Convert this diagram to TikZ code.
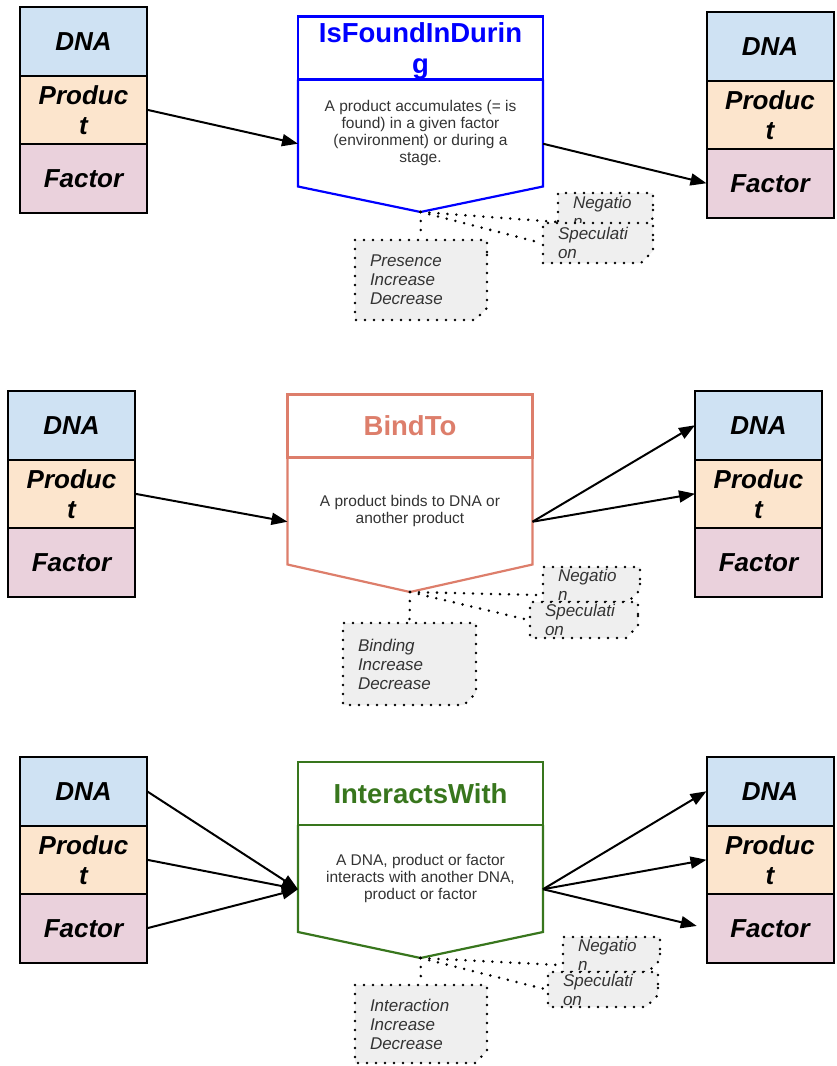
\documentclass[tikz,border=0pt]{standalone}
\usepackage{fontspec}
\setmainfont{Liberation Sans}
\usetikzlibrary{positioning, arrows.meta, shapes.misc}
\definecolor{relblue}{RGB}{0,0,255}
\definecolor{relsalmon}{RGB}{221,126,107}
\definecolor{relgreen}{RGB}{56,118,29}
\definecolor{dnafill}{RGB}{207,226,243}
\definecolor{prodfill}{RGB}{252,229,205}
\definecolor{factfill}{RGB}{234,209,220}
\definecolor{notefill}{RGB}{239,239,239}
\definecolor{inkgray}{RGB}{51,51,51}

\begin{document}
\begin{tikzpicture}[x=1pt, y=-1pt,
    cell/.style={rectangle, draw=black, line width=2pt, outer sep=0pt,
                 minimum width=127pt, minimum height=68.5pt, inner sep=0pt,
                 align=center, font=\fontsize{26}{30}\selectfont\bfseries\itshape},
    dnacell/.style={cell, fill=dnafill},
    prodcell/.style={cell, fill=prodfill},
    factcell/.style={cell, fill=factfill},
    reltitle/.style={rectangle, draw=#1, text=#1, fill=white, line width=2.2pt,
                     outer sep=0pt, minimum width=245pt, minimum height=63pt,
                     inner sep=1pt, align=center,
                     font=\fontsize{27.5}{30.5}\selectfont\bfseries},
    relbody/.style={rectangle, minimum width=245pt, minimum height=107pt,
                    inner sep=0pt, outer sep=0pt, align=center, text=inkgray,
                    font=\fontsize{15.5}{17.3}\selectfont},
    reledge/.style={draw=#1, line width=2.2pt, line join=miter},
    note/.style={chamfered rectangle, chamfered rectangle corners=south east,
                 chamfered rectangle xsep=6pt, chamfered rectangle ysep=6pt,
                 fill=notefill, draw=black, line width=2.8pt, line cap=round,
                 dash pattern=on 0pt off 9pt, inner xsep=9pt, inner ysep=-6pt,
                 align=left, text=inkgray,
                 font=\fontsize{17}{19}\selectfont\itshape},
    noteline/.style={line width=2.8pt, line cap=round, dash pattern=on 0pt off 9pt},
    linkarr/.style={-{Triangle[length=16pt, width=12pt]}, line width=2pt},
]
\useasboundingbox (0,0) rectangle (836,1066);

% ─── IsFoundInDuring ─────────────────────────────────────────────
\node[dnacell] (D1) at (83.5,41.25) {DNA};
\node[prodcell, below=0pt of D1] (P1) {Produc\\t};
\node[factcell, below=0pt of P1] (F1) {Factor};

\node[dnacell] (D1r) at (770,46.25) {DNA};
\node[prodcell, below=0pt of D1r] (P1r) {Produc\\t};
\node[factcell, below=0pt of P1r] (F1r) {Factor};

% the wrapped title sits a little low in its box
\node[reltitle=relblue, text depth=-9pt] (T1) at (420.5,48) {IsFoundInDurin\\g};
\node[relbody, below=0pt of T1] (B1) {A product accumulates (= is\\found) in a given factor\\(environment) or during a\\stage.};
\coordinate (tip1) at (420.5,212);
\draw[reledge=relblue] (B1.north west) -- (B1.south west) -- (tip1)
    -- (B1.south east) -- (B1.north east);

\draw[linkarr] (P1.east) -- (B1.185);
\draw[linkarr] (B1.-5) -- (F1r.west);

% modifiers hanging from the tip
\node[note, text width=102pt, minimum height=80pt] (pres1) at (421,280) {Presence\\Increase\\Decrease};
\node[note, text width=65pt, minimum height=37pt] (neg1) at (605.5,211.5) {Negatio\\n};
\node[note, text width=80pt, minimum height=40pt] (spec1) at (598,243) {Speculati\\on};
\draw[noteline] (tip1) -- (pres1.north);
\draw[noteline] (tip1) -- (neg1.192);
\draw[noteline] (tip1) -- (spec1.west);

% ─── BindTo ──────────────────────────────────────────────────────
\node[dnacell] (D2) at (71.5,425.25) {DNA};
\node[prodcell, below=0pt of D2] (P2) {Produc\\t};
\node[factcell, below=0pt of P2] (F2) {Factor};

\node[dnacell] (D2r) at (758.5,425.25) {DNA};
\node[prodcell, below=0pt of D2r] (P2r) {Produc\\t};
\node[factcell, below=0pt of P2r] (F2r) {Factor};

\node[reltitle=relsalmon] (T2) at (410,426) {BindTo};
\node[relbody, below=0pt of T2] (B2) {A product binds to DNA or\\another product};
\coordinate (tip2) at (410,592);
\draw[reledge=relsalmon] (B2.north west) -- (B2.south west) -- (tip2)
    -- (B2.south east) -- (B2.north east);

\draw[linkarr] (P2.east) -- (B2.185);
\draw[linkarr] (B2.-5) -- (D2r.west);
\draw[linkarr] (B2.-5) -- (P2r.west);

\node[note, text width=103pt, minimum height=82pt] (bind2) at (409.5,664) {Binding\\Increase\\Decrease};
\node[note, text width=67pt, minimum height=35pt] (neg2) at (591.5,584.5) {Negatio\\n};
\node[note, text width=78pt, minimum height=36pt] (spec2) at (584,620) {Speculati\\on};
\draw[noteline] (tip2) -- (bind2.north);
\draw[noteline] (tip2) -- (neg2.192);
\draw[noteline] (tip2) -- (spec2.west);

% ─── InteractsWith ───────────────────────────────────────────────
\node[dnacell] (D3) at (83.5,791.25) {DNA};
\node[prodcell, below=0pt of D3] (P3) {Produc\\t};
\node[factcell, below=0pt of P3] (F3) {Factor};

\node[dnacell] (D3r) at (770,791.25) {DNA};
\node[prodcell, below=0pt of D3r] (P3r) {Produc\\t};
\node[factcell, below=0pt of P3r] (F3r) {Factor};

\node[reltitle=relgreen] (T3) at (420.5,793.5) {InteractsWith};
\node[relbody, below=0pt of T3] (B3) {A DNA, product or factor\\interacts with another DNA,\\product or factor};
\coordinate (tip3) at (420.5,958);
\draw[reledge=relgreen] (B3.north west) -- (B3.south west) -- (tip3)
    -- (B3.south east) -- (B3.north east);

\draw[linkarr] (D3.east) -- (B3.185);
\draw[linkarr] (P3.east) -- (B3.185);
\draw[linkarr] (F3.east) -- (B3.185);
\draw[linkarr] (B3.-5) -- (D3r.west);
\draw[linkarr] (B3.-5) -- (P3r.west);
\draw[linkarr, shorten >=10pt] (B3.-5) -- (F3r.west);

\node[note, text width=102pt, minimum height=78pt] (inter3) at (421,1024) {Interaction\\Increase\\Decrease};
\node[note, text width=67pt, minimum height=35pt] (neg3) at (611.5,954.5) {Negatio\\n};
\node[note, text width=80pt, minimum height=35pt] (spec3) at (603,989.5) {Speculati\\on};
\draw[noteline] (tip3) -- (inter3.north);
\draw[noteline] (tip3) -- (neg3.192);
\draw[noteline] (tip3) -- (spec3.west);

\end{tikzpicture}
\end{document}
